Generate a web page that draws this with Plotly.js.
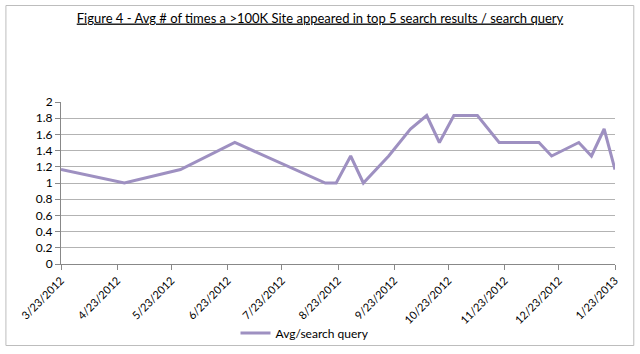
<!DOCTYPE html>
<html>
<head>
<meta charset="utf-8">
<script src="https://cdn.plot.ly/plotly-3.0.1.min.js"></script>
<style>
  html, body { margin: 0; padding: 0; background: #fff; }
  #chart { width: 640px; height: 354px; }
</style>
</head>
<body>
<div id="chart"></div>
<script>
// Data
const dates = [
  '2012-03-23', '2012-04-27', '2012-05-28', '2012-06-27', '2012-08-16',
  '2012-08-22', '2012-08-30', '2012-09-06', '2012-09-20', '2012-10-02',
  '2012-10-11', '2012-10-18', '2012-10-26', '2012-11-08', '2012-11-20',
  '2012-12-12', '2012-12-19', '2013-01-03', '2013-01-10', '2013-01-17',
  '2013-01-23'
];
const avgPerQuery = [
  1.1667, 1.0, 1.1667, 1.5, 1.0,
  1.0, 1.3333, 1.0, 1.3333, 1.6667,
  1.8333, 1.5, 1.8333, 1.8333, 1.5,
  1.5, 1.3333, 1.5, 1.3333, 1.6667,
  1.1667
];
const tickDates = [
  '2012-03-23', '2012-04-23', '2012-05-23', '2012-06-23', '2012-07-23',
  '2012-08-23', '2012-09-23', '2012-10-23', '2012-11-23', '2012-12-23',
  '2013-01-23'
];
const tickLabels = [
  '3/23/2012', '4/23/2012', '5/23/2012', '6/23/2012', '7/23/2012',
  '8/23/2012', '9/23/2012', '10/23/2012', '11/23/2012', '12/23/2012',
  '1/23/2013'
];
const seriesName = 'Avg/search query';
const titleText = 'Figure 4 - Avg # of times a >100K Site appeared in top 5 search results / search query';

const FONT = 'Lato, "Open Sans", sans-serif';

const trace = {
  x: dates,
  y: avgPerQuery,
  type: 'scatter',
  mode: 'lines',
  name: seriesName,
  line: { color: '#9e90c1', width: 3 }
};

const L = 60.6, R = 614.7, T = 102, B = 264;
const W = 640, H = 354;
const pw = R - L, ph = B - T;

const layout = {
  width: W,
  height: H,
  margin: { l: L, r: W - R, t: T, b: H - B, pad: 0 },
  paper_bgcolor: '#ffffff',
  plot_bgcolor: '#ffffff',
  font: { family: FONT, size: 12, color: '#000000' },
  title: {
    text: '<u>' + titleText.replace('>', '&gt;') + '</u>',
    font: { family: FONT, size: 13, color: '#000000' },
    xref: 'container', x: 0.5, xanchor: 'center',
    yref: 'container', y: 1 - 18 / H, yanchor: 'middle'
  },
  showlegend: true,
  legend: {
    orientation: 'h',
    xref: 'container', x: 305 / W, xanchor: 'center',
    yref: 'container', y: 1 - 333 / H, yanchor: 'middle',
    font: { family: FONT, size: 12, color: '#000000' },
    bgcolor: 'rgba(0,0,0,0)'
  },
  xaxis: {
    type: 'date',
    range: ['2012-03-23', '2013-01-23'],
    tickmode: 'array',
    tickvals: tickDates,
    ticktext: tickLabels,
    tickangle: -45,
    tickfont: { family: FONT, size: 11, color: '#000000' },
    ticks: 'outside',
    ticklen: 5,
    tickcolor: '#888888',
    showline: true,
    linecolor: '#888888',
    linewidth: 1,
    showgrid: false,
    zeroline: false,
    fixedrange: true
  },
  yaxis: {
    range: [0, 2],
    tickmode: 'linear',
    tick0: 0,
    dtick: 0.2,
    tickfont: { family: FONT, size: 12, color: '#000000' },
    ticks: 'outside',
    ticklen: 5,
    tickcolor: '#888888',
    showline: true,
    linecolor: '#888888',
    linewidth: 1,
    showgrid: true,
    gridcolor: '#b3b3b3',
    gridwidth: 1,
    zeroline: false,
    fixedrange: true
  },
  shapes: [{
    type: 'rect',
    xref: 'paper', yref: 'paper',
    x0: (5.5 - L) / pw, x1: (633.5 - L) / pw,
    y0: (B - 345.5) / ph, y1: (B - 5.5) / ph,
    line: { color: '#bdbdbd', width: 1 },
    fillcolor: 'rgba(0,0,0,0)',
    layer: 'above'
  }]
};

Plotly.newPlot('chart', [trace], layout, { staticPlot: true, displayModeBar: false });
</script>
</body>
</html>
